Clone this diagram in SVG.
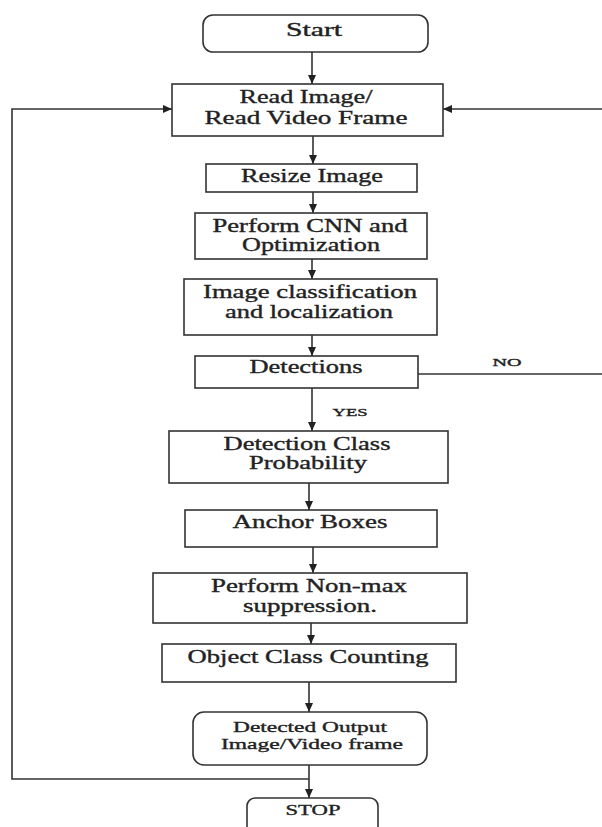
<svg xmlns="http://www.w3.org/2000/svg" width="602" height="827" viewBox="0 0 602 827">
<defs>
<marker id="ah" markerUnits="userSpaceOnUse" markerWidth="10" markerHeight="9" refX="9" refY="4" orient="auto">
<path d="M0,0 L9,4 L0,8 z" fill="#222"/>
</marker>
<style>
.b{fill:#fff;stroke:#333;stroke-width:1.6}
.t{font-family:"Liberation Serif","Times New Roman",serif;font-size:18px;fill:#222;stroke:#222;stroke-width:0.35;text-anchor:middle}
.s{font-size:15px}
.x{font-size:11px}
.c{fill:none;stroke:#333;stroke-width:1.6}
</style>
</defs>
<rect width="602" height="827" fill="#fff"/>
<g id="connectors">
<path class="c" d="M312,52 V84" marker-end="url(#ah)"/>
<path class="c" d="M313,136 V164" marker-end="url(#ah)"/>
<path class="c" d="M313,192 V213" marker-end="url(#ah)"/>
<path class="c" d="M312,259 V279" marker-end="url(#ah)"/>
<path class="c" d="M312,335 V356" marker-end="url(#ah)"/>
<path class="c" d="M312,388 V431" marker-end="url(#ah)"/>
<path class="c" d="M309,483 V510" marker-end="url(#ah)"/>
<path class="c" d="M313,547 V573" marker-end="url(#ah)"/>
<path class="c" d="M311,623 V644" marker-end="url(#ah)"/>
<path class="c" d="M309,682 V712" marker-end="url(#ah)"/>
<path class="c" d="M309,765 V798" marker-end="url(#ah)"/>
<path class="c" d="M309,779 H12 V109 H172" marker-end="url(#ah)"/>
<path class="c" d="M418,374 H602"/>
<path class="c" d="M602,109 H443" marker-end="url(#ah)"/>
<text class="t x" x="507" y="366" textLength="29" lengthAdjust="spacingAndGlyphs">NO</text>
<text class="t x" x="350" y="416" textLength="35" lengthAdjust="spacingAndGlyphs">YES</text>
</g>
<g id="start">
<rect class="b" x="203" y="15" width="225" height="37" rx="10"/>
<text class="t" x="314" y="36" textLength="56" lengthAdjust="spacingAndGlyphs">Start</text>
</g>
<g id="read">
<rect class="b" x="172" y="84" width="271" height="52"/>
<text class="t" x="306" y="103" textLength="133" lengthAdjust="spacingAndGlyphs">Read Image/</text>
<text class="t" x="306" y="124" textLength="203" lengthAdjust="spacingAndGlyphs">Read Video Frame</text>
</g>
<g id="resize">
<rect class="b" x="206" y="164" width="211" height="28"/>
<text class="t" x="312" y="182" textLength="142" lengthAdjust="spacingAndGlyphs">Resize Image</text>
</g>
<g id="cnn">
<rect class="b" x="195" y="213" width="232" height="46"/>
<text class="t" x="310" y="232" textLength="195" lengthAdjust="spacingAndGlyphs">Perform CNN and</text>
<text class="t" x="311" y="251" textLength="138" lengthAdjust="spacingAndGlyphs">Optimization</text>
</g>
<g id="classify">
<rect class="b" x="184" y="279" width="253" height="56"/>
<text class="t" x="310" y="298" textLength="214" lengthAdjust="spacingAndGlyphs">Image classification</text>
<text class="t" x="309" y="318" textLength="168" lengthAdjust="spacingAndGlyphs">and localization</text>
</g>
<g id="detections">
<rect class="b" x="195" y="356" width="223" height="32"/>
<text class="t" x="306" y="373" textLength="113" lengthAdjust="spacingAndGlyphs">Detections</text>
</g>
<g id="probability">
<rect class="b" x="169" y="431" width="279" height="52"/>
<text class="t" x="307" y="450" textLength="167" lengthAdjust="spacingAndGlyphs">Detection Class</text>
<text class="t" x="308" y="469" textLength="118" lengthAdjust="spacingAndGlyphs">Probability</text>
</g>
<g id="anchor">
<rect class="b" x="185" y="510" width="252" height="37"/>
<text class="t" x="310" y="528" textLength="155" lengthAdjust="spacingAndGlyphs">Anchor Boxes</text>
</g>
<g id="nms">
<rect class="b" x="153" y="573" width="314" height="50"/>
<text class="t" x="309" y="592" textLength="196" lengthAdjust="spacingAndGlyphs">Perform Non-max</text>
<text class="t" x="310" y="612" textLength="134" lengthAdjust="spacingAndGlyphs">suppression.</text>
</g>
<g id="counting">
<rect class="b" x="162" y="644" width="294" height="38"/>
<text class="t" x="308" y="663" textLength="241" lengthAdjust="spacingAndGlyphs">Object Class Counting</text>
</g>
<g id="output">
<rect class="b" x="193" y="712" width="234" height="53" rx="11"/>
<text class="t s" x="310" y="732" textLength="154" lengthAdjust="spacingAndGlyphs">Detected Output</text>
<text class="t s" x="312" y="749" textLength="182" lengthAdjust="spacingAndGlyphs">Image/Video frame</text>
</g>
<g id="stop">
<rect class="b" x="247" y="798" width="131" height="40" rx="8"/>
<text class="t s" x="313" y="815" textLength="55" lengthAdjust="spacingAndGlyphs">STOP</text>
</g>
</svg>
